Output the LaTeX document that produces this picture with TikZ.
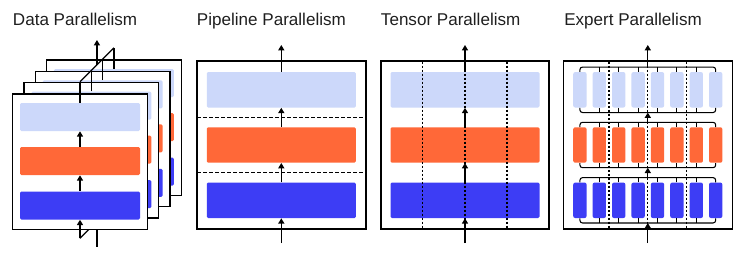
\documentclass[tikz,border=0pt]{standalone}
\usepackage{fontspec}
\setmainfont{Liberation Sans}
\usetikzlibrary{arrows.meta}
\definecolor{parLight}{HTML}{CCD8FA}
\definecolor{parOrange}{HTML}{FF6838}
\definecolor{parBlue}{HTML}{3D3DF5}
\begin{document}
\begin{tikzpicture}
% Parallelism overview laid out on a pixel grid (y grows downwards)
\def\pxsz{0.75pt}
\providecommand{\parBoxLineWidth}{1pt}
\providecommand{\parArrowLineWidth}{1pt}
\providecommand{\parThinLineWidth}{0.8pt}
\providecommand{\parTextColor}{black!88}
\begin{scope}[x=\pxsz, y=-\pxsz, line join=miter,
  panel/.style={draw=black, fill=white, line width=\parBoxLineWidth},
  databar/.style={rectangle, inner sep=0pt, minimum width=90pt, minimum height=21pt, rounded corners=1pt},
  widebar/.style={rectangle, inner sep=0pt, minimum width=111.75pt, minimum height=26.6pt, rounded corners=1pt},
  expertbar/.style={rectangle, inner sep=0pt, minimum width=10pt, minimum height=26.6pt, rounded corners=1.5pt},
  lightbar/.style={fill=parLight},
  orangebar/.style={fill=parOrange},
  bluebar/.style={fill=parBlue},
  link/.style={draw=black, line width=\parArrowLineWidth},
  arr/.style={link, -{Triangle[length=4pt,width=4.5pt]}},
  stagecut/.style={draw=black, line width=\parThinLineWidth, dash pattern=on 3pt off 1.5pt},
  shardcut/.style={draw=black, line width=\parThinLineWidth, dash pattern=on 1.5pt off 1.5pt},
  expbracket/.style={draw=black, line width=\parThinLineWidth, rounded corners=2pt},
  title/.style={anchor=base west, inner sep=0pt, text=\parTextColor, font=\fontsize{12.8}{15}\selectfont}]
  \useasboundingbox (0,0) rectangle (746,257);

  % ---------------- Data parallelism ----------------
  \node[title] (tdata) at (12.7,25) {Data Parallelism};
  % Back replicas
  \draw[panel] (46.6,60.1) rectangle (181.2,195.4);
  \node[databar, lightbar] (dl3) at (113.9,83.1) {};
  \node[databar, orangebar] (do3) at (113.9,127.1) {};
  \node[databar, bluebar] (db3) at (113.9,171.6) {};
  \draw[panel] (35.3,71.4) rectangle (169.9,206.7);
  \node[databar, lightbar] (dl2) at (102.6,94.4) {};
  \node[databar, orangebar] (do2) at (102.6,138.4) {};
  \node[databar, bluebar] (db2) at (102.6,182.9) {};
  \draw[panel] (24.0,82.7) rectangle (158.6,218.0);
  \node[databar, lightbar] (dl1) at (91.3,105.7) {};
  \node[databar, orangebar] (do1) at (91.3,149.7) {};
  \node[databar, bluebar] (db1) at (91.3,194.2) {};
  % Input fan-out (mostly hidden by the front replica)
  \coordinate (dbot0) at (80,238.3);
  \coordinate (dbot3) at (113.9,204.4);
  \coordinate (dmerge) at (96.95,221.35);
  \coordinate (din) at (96.95,246.7);
  \draw[link] (dbot0) -- (dbot3);
  \draw[link] (din) -- (dmerge);
  % Front replica
  \draw[panel] (12.7,94.0) rectangle (147.3,229.3);
  \node[databar, lightbar] (dl0) at (80,117) {};
  \node[databar, orangebar] (do0) at (80,161) {};
  \node[databar, bluebar] (db0) at (80,205.5) {};
  \draw[arr] (dbot0) -- (db0.south);
  \draw[arr] (db0.north) -- (do0.south);
  \draw[arr] (do0.north) -- (dl0.south);
  % Output fan-in
  \coordinate (dtop0) at (80,81.7);
  \coordinate (dtop1) at (91.3,70.4);
  \coordinate (dtop2) at (102.6,59.1);
  \coordinate (dtop3) at (113.9,47.8);
  \coordinate (dsplit) at (96.95,64.75);
  \coordinate (dout) at (96.95,40);
  \draw[link] (dl0.north) -- (dtop0) (dl1.north) -- (dtop1) (dl2.north) -- (dtop2) (dl3.north) -- (dtop3);
  \draw[link] (dtop0) -- (dtop3);
  \draw[arr] (dsplit) -- (dout);

  % ---------------- Pipeline parallelism ----------------
  \node[title] (tpipe) at (196.7,25) {Pipeline Parallelism};
  \draw[panel] (197,61) rectangle (366,229);
  \node[widebar, lightbar] (pl) at (281.3,89.8) {};
  \node[widebar, orangebar] (po) at (281.3,145) {};
  \node[widebar, bluebar] (pb) at (281.3,200.3) {};
  \draw[stagecut] (197,117.4) -- (366,117.4);
  \draw[stagecut] (197,172.7) -- (366,172.7);
  \coordinate (pout) at (281.3,45);
  \coordinate (pin) at (281.3,243);
  \draw[arr] (pin) -- (pb.south);
  \draw[arr] (pb.north) -- (po.south);
  \draw[arr] (po.north) -- (pl.south);
  \draw[arr] (pl.north) -- (pout);

  % ---------------- Tensor parallelism ----------------
  \node[title] (ttensor) at (380.7,25) {Tensor Parallelism};
  \draw[panel] (381,61) rectangle (549,229);
  \node[widebar, lightbar] (tl) at (465,89.8) {};
  \node[widebar, orangebar] (to) at (465,145) {};
  \node[widebar, bluebar] (tb) at (465,200.3) {};
  \coordinate (tout) at (465,45);
  \coordinate (tin) at (465,243);
  \draw[arr] (tin) -- (tb.south);
  \draw[arr] (tb.north) -- (to.south);
  \draw[arr] (to.north) -- (tl.south);
  \draw[arr] (tl.north) -- (tout);
  \draw[shardcut] (422.5,61.5) -- (422.5,228.5);
  \draw[shardcut] (465,61.5) -- (465,228.5);
  \draw[shardcut] (507,61.5) -- (507,228.5);

  % ---------------- Expert parallelism ----------------
  \node[title] (texpert) at (564,25) {Expert Parallelism};
  \draw[panel] (563.3,61) rectangle (732.3,229);
  % Experts, light row
  \node[expertbar, lightbar] (el1) at (579.9,89.8) {};
  \node[expertbar, lightbar] (el2) at (599.3,89.8) {};
  \node[expertbar, lightbar] (el3) at (618.7,89.8) {};
  \node[expertbar, lightbar] (el4) at (638.1,89.8) {};
  \node[expertbar, lightbar] (el5) at (657.5,89.8) {};
  \node[expertbar, lightbar] (el6) at (676.9,89.8) {};
  \node[expertbar, lightbar] (el7) at (696.3,89.8) {};
  \node[expertbar, lightbar] (el8) at (715.7,89.8) {};
  % Experts, orange row
  \node[expertbar, orangebar] (eo1) at (579.9,145) {};
  \node[expertbar, orangebar] (eo2) at (599.3,145) {};
  \node[expertbar, orangebar] (eo3) at (618.7,145) {};
  \node[expertbar, orangebar] (eo4) at (638.1,145) {};
  \node[expertbar, orangebar] (eo5) at (657.5,145) {};
  \node[expertbar, orangebar] (eo6) at (676.9,145) {};
  \node[expertbar, orangebar] (eo7) at (696.3,145) {};
  \node[expertbar, orangebar] (eo8) at (715.7,145) {};
  % Experts, blue row
  \node[expertbar, bluebar] (eb1) at (579.9,200.3) {};
  \node[expertbar, bluebar] (eb2) at (599.3,200.3) {};
  \node[expertbar, bluebar] (eb3) at (618.7,200.3) {};
  \node[expertbar, bluebar] (eb4) at (638.1,200.3) {};
  \node[expertbar, bluebar] (eb5) at (657.5,200.3) {};
  \node[expertbar, bluebar] (eb6) at (676.9,200.3) {};
  \node[expertbar, bluebar] (eb7) at (696.3,200.3) {};
  \node[expertbar, bluebar] (eb8) at (715.7,200.3) {};
  % Bracket levels
  \coordinate (etop1) at (647.8,67.05);
  \coordinate (ebot1) at (647.8,112.55);
  \coordinate (etop2) at (647.8,122.3);
  \coordinate (ebot2) at (647.8,167.7);
  \coordinate (etop3) at (647.8,177.6);
  \coordinate (ebot3) at (647.8,223);
  \coordinate (eout) at (647.8,45);
  \coordinate (ein) at (647.8,243);
  % Split and gather brackets
  \draw[expbracket] (el1.north) |- (etop1) -| (el8.north);
  \draw[expbracket] (el1.south) |- (ebot1) -| (el8.south);
  \draw[expbracket] (eo1.north) |- (etop2) -| (eo8.north);
  \draw[expbracket] (eo1.south) |- (ebot2) -| (eo8.south);
  \draw[expbracket] (eb1.north) |- (etop3) -| (eb8.north);
  \draw[expbracket] (eb1.south) |- (ebot3) -| (eb8.south);
  \draw[expbracket] (el2.north) -- (el2.north |- etop1) (el3.north) -- (el3.north |- etop1) (el4.north) -- (el4.north |- etop1)
    (el5.north) -- (el5.north |- etop1) (el6.north) -- (el6.north |- etop1) (el7.north) -- (el7.north |- etop1);
  \draw[expbracket] (el2.south) -- (el2.south |- ebot1) (el3.south) -- (el3.south |- ebot1) (el4.south) -- (el4.south |- ebot1)
    (el5.south) -- (el5.south |- ebot1) (el6.south) -- (el6.south |- ebot1) (el7.south) -- (el7.south |- ebot1);
  \draw[expbracket] (eo2.north) -- (eo2.north |- etop2) (eo3.north) -- (eo3.north |- etop2) (eo4.north) -- (eo4.north |- etop2)
    (eo5.north) -- (eo5.north |- etop2) (eo6.north) -- (eo6.north |- etop2) (eo7.north) -- (eo7.north |- etop2);
  \draw[expbracket] (eo2.south) -- (eo2.south |- ebot2) (eo3.south) -- (eo3.south |- ebot2) (eo4.south) -- (eo4.south |- ebot2)
    (eo5.south) -- (eo5.south |- ebot2) (eo6.south) -- (eo6.south |- ebot2) (eo7.south) -- (eo7.south |- ebot2);
  \draw[expbracket] (eb2.north) -- (eb2.north |- etop3) (eb3.north) -- (eb3.north |- etop3) (eb4.north) -- (eb4.north |- etop3)
    (eb5.north) -- (eb5.north |- etop3) (eb6.north) -- (eb6.north |- etop3) (eb7.north) -- (eb7.north |- etop3);
  \draw[expbracket] (eb2.south) -- (eb2.south |- ebot3) (eb3.south) -- (eb3.south |- ebot3) (eb4.south) -- (eb4.south |- ebot3)
    (eb5.south) -- (eb5.south |- ebot3) (eb6.south) -- (eb6.south |- ebot3) (eb7.south) -- (eb7.south |- ebot3);
  % Flow between layers
  \draw[arr] (ein) -- (ebot3);
  \draw[arr] (etop3) -- (ebot2);
  \draw[arr] (etop2) -- (ebot1);
  \draw[arr] (etop1) -- (eout);
  % Device boundaries
  \draw[shardcut] (609,61.5) -- (609,228.5);
  \draw[shardcut] (647.8,61.5) -- (647.8,228.5);
  \draw[shardcut] (686.6,61.5) -- (686.6,228.5);
\end{scope}
\end{tikzpicture}
\end{document}
